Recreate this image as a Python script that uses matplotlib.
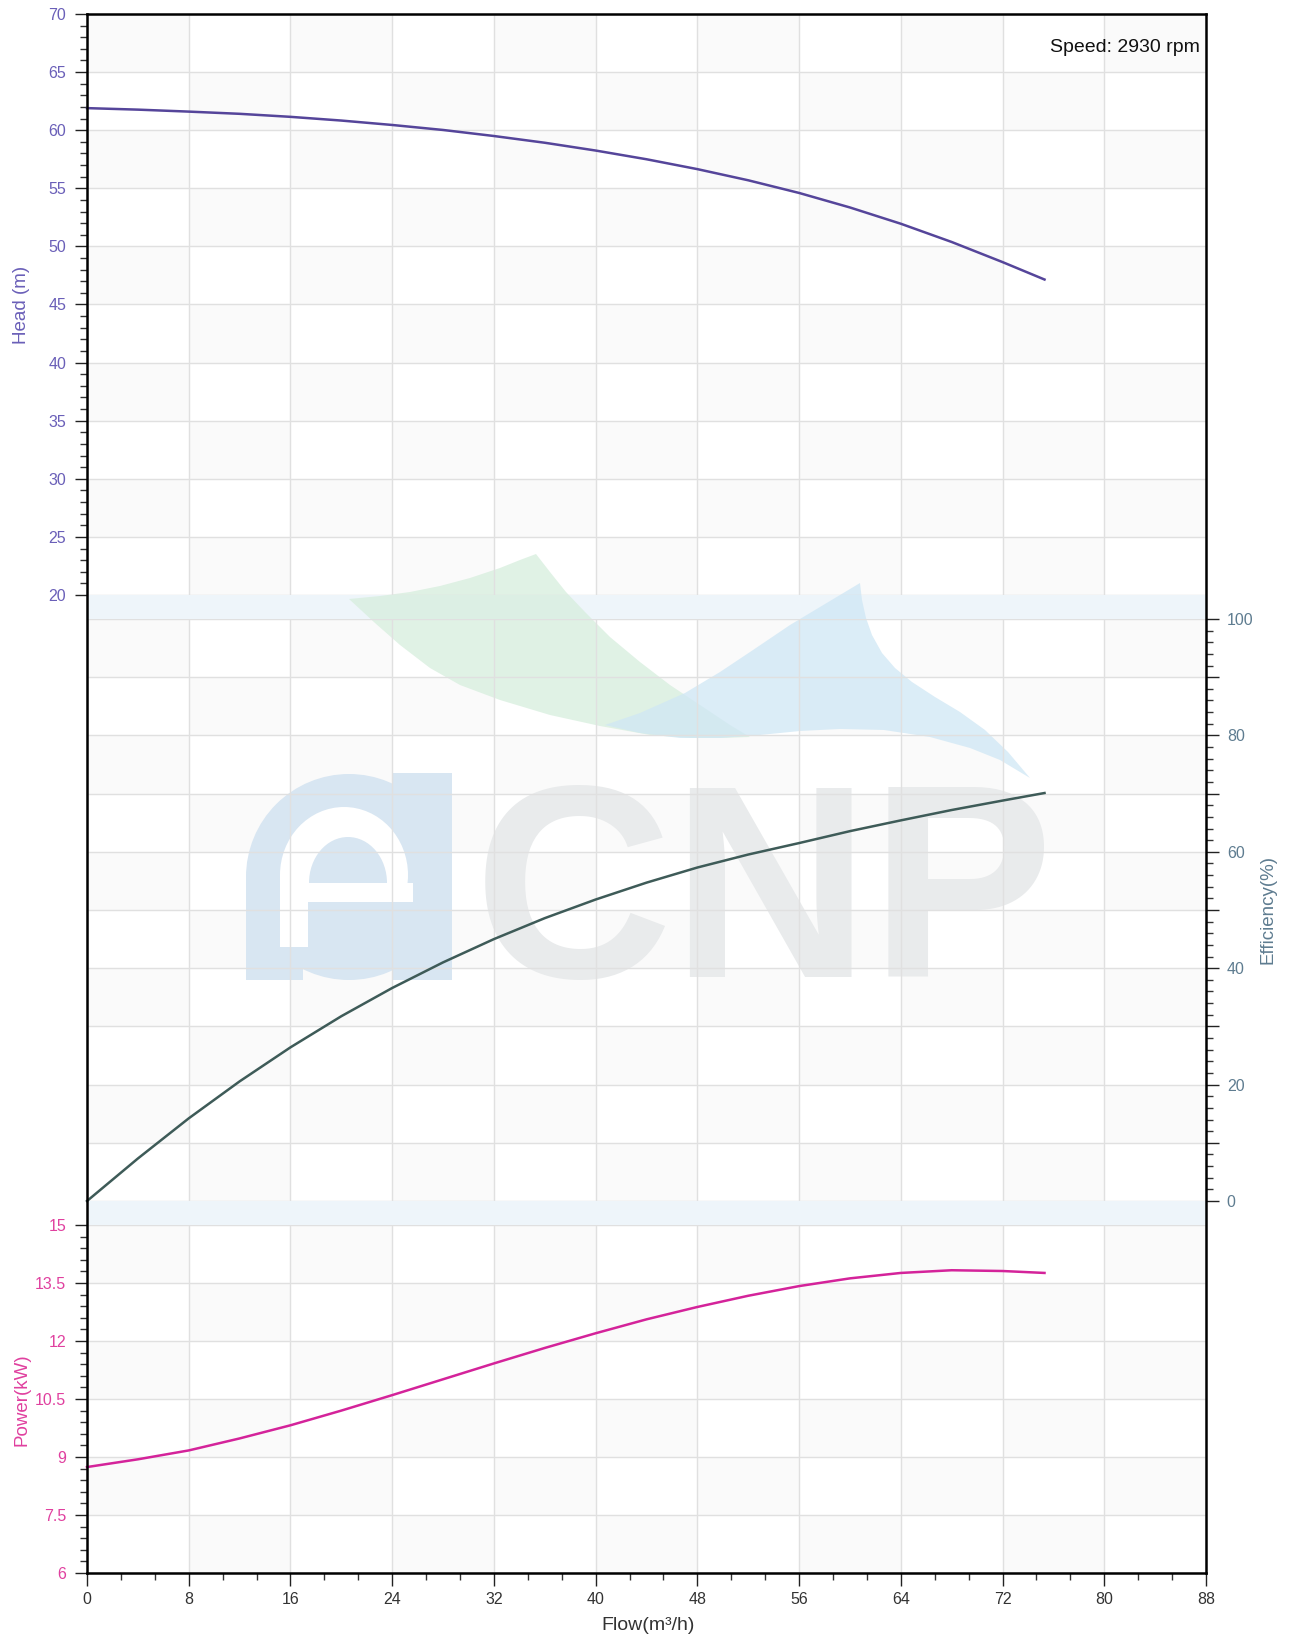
import matplotlib
matplotlib.use("Agg")
import matplotlib.pyplot as plt
from matplotlib.patches import Rectangle, Polygon, Ellipse
from matplotlib.ticker import MultipleLocator, FuncFormatter
from matplotlib.transforms import Affine2D

plt.rcParams["font.family"] = ["Liberation Sans", "DejaVu Sans"]

# -----------------------------
# 1. Curve data
# -----------------------------
flow = [0, 4, 8, 12, 16, 20, 24, 28, 32, 36, 40, 44, 48, 52, 56, 60, 64, 68, 72, 75.3]
head = [61.9, 61.77, 61.6, 61.41, 61.15, 60.83, 60.45, 60.02, 59.5, 58.92,
        58.25, 57.5, 56.65, 55.69, 54.6, 53.35, 51.95, 50.38, 48.65, 47.15]
efficiency = [0, 7.3, 14.2, 20.55, 26.4, 31.75, 36.6, 41.0, 45.0, 48.6,
              51.8, 54.7, 57.3, 59.53, 61.5, 63.55, 65.4, 67.18, 68.8, 70.1]
power = [8.74, 8.94, 9.17, 9.48, 9.82, 10.2, 10.6, 11.01, 11.42, 11.82,
         12.2, 12.56, 12.88, 13.17, 13.42, 13.62, 13.76, 13.83, 13.81, 13.76]

speed_text = "Speed: 2930 rpm"

# -----------------------------
# 2. Layout (pixels)
# -----------------------------
FIG_W, FIG_H = 1292, 1639
PLOT_L, PLOT_R = 87, 1206
HEAD_TOP, HEAD_BOT = 14, 595
EFF_TOP, EFF_BOT = 619, 1201
POW_TOP, POW_BOT = 1225, 1573

HEAD_C = "#6A5FB8"
EFF_C = "#5E7C90"
POW_C = "#E0409F"
GRID_C = "#E0E0E0"
SHADE_C = "#FAFAFA"
BAND_C = "#EEF5FA"


def rect_frac(top, bot):
    return [PLOT_L / FIG_W, 1 - bot / FIG_H, (PLOT_R - PLOT_L) / FIG_W, (bot - top) / FIG_H]


fig = plt.figure(figsize=(FIG_W / 100, FIG_H / 100), dpi=100)
PX = Affine2D().scale(1 / FIG_W, -1 / FIG_H).translate(0, 1) + fig.transFigure

# background (shading, bands, watermark)
bg = fig.add_axes(rect_frac(HEAD_TOP, POW_BOT), zorder=0)
bg.set_xticks([])
bg.set_yticks([])
for s in bg.spines.values():
    s.set_visible(False)

# black frame drawn on top of everything
frame = fig.add_axes(rect_frac(HEAD_TOP, POW_BOT), zorder=5, facecolor="none")
frame.set_xticks([])
frame.set_yticks([])
for s in frame.spines.values():
    s.set_linewidth(1.8)
    s.set_color("black")

ax_h = fig.add_axes(rect_frac(HEAD_TOP, HEAD_BOT), zorder=1, facecolor="none")
ax_e = fig.add_axes(rect_frac(EFF_TOP, EFF_BOT), zorder=1, facecolor="none")
ax_p = fig.add_axes(rect_frac(POW_TOP, POW_BOT), zorder=1, facecolor="none")

panels = [
    (ax_h, 20, 70, 5, 1, HEAD_C),
    (ax_e, 0, 100, 10, 2, EFF_C),
    (ax_p, 6, 15, 1.5, 0.3, POW_C),
]

# -----------------------------
# 3. Axes, grid and checkerboard shading
# -----------------------------
for ax, ymin, ymax, ystep, yminor, col in panels:
    ax.set_xlim(0, 88)
    ax.set_ylim(ymin, ymax)
    for s in ax.spines.values():
        s.set_visible(False)
    ax.xaxis.set_major_locator(MultipleLocator(8))
    ax.yaxis.set_major_locator(MultipleLocator(ystep))
    ax.yaxis.set_minor_locator(MultipleLocator(yminor))
    ax.grid(True, which="major", color=GRID_C, linewidth=1)
    ax.set_axisbelow(True)
    ax.tick_params(axis="y", which="major", direction="out", length=9, width=1,
                   color="#222222", labelsize=11.5, labelcolor=col, pad=6)
    ax.tick_params(axis="y", which="minor", direction="out", length=5, width=1,
                   color="#333333")

    nrows = int(round((ymax - ymin) / ystep))
    for r in range(nrows):
        y0 = ymax - (r + 1) * ystep
        for c in range(11):
            if (r + c) % 2 == 0:
                bg.add_patch(Rectangle((c * 8, y0), 8, ystep, transform=ax.transData,
                                       facecolor=SHADE_C, edgecolor="none", zorder=1))

for ax in (ax_h, ax_e):
    ax.tick_params(axis="x", which="both", length=0, labelbottom=False)

ax_e.yaxis.tick_right()
ax_e.yaxis.set_major_formatter(FuncFormatter(lambda v, p: f"{v:g}" if v % 20 == 0 else ""))
ax_p.yaxis.set_major_formatter(FuncFormatter(lambda v, p: f"{v:g}"))

ax_p.xaxis.set_minor_locator(MultipleLocator(8 / 3))
ax_p.tick_params(axis="x", which="major", direction="out", length=9, width=1,
                 color="#222222", labelsize=11.5, labelcolor="#333333", pad=5)
ax_p.tick_params(axis="x", which="minor", direction="out", length=5, width=1,
                 color="#333333")

# bands between panels
for top, bot in [(HEAD_BOT, EFF_TOP), (EFF_BOT, POW_TOP)]:
    bg.add_patch(Rectangle((PLOT_L, top), PLOT_R - PLOT_L, bot - top, transform=PX,
                           facecolor=BAND_C, edgecolor="none", zorder=2))

# -----------------------------
# 4. Watermark logo
# -----------------------------
green = [(349, 599), (380, 596), (410, 592), (440, 586), (470, 578), (500, 568),
         (520, 560), (536, 554), (550, 572), (566, 592), (585, 612), (610, 637),
         (640, 662), (670, 685), (700, 705), (730, 725), (750, 737), (720, 738),
         (690, 738), (650, 735), (600, 726), (550, 715), (500, 700), (460, 685),
         (430, 668), (400, 645), (375, 623)]
blue = [(860, 583), (862, 600), (866, 618), (872, 635), (882, 653), (895, 668),
        (912, 682), (935, 697), (960, 712), (985, 730), (1008, 752), (1030, 778),
        (1000, 760), (970, 748), (930, 737), (884, 730), (840, 729), (800, 731),
        (760, 735), (720, 738), (680, 738), (640, 733), (605, 725), (640, 713),
        (685, 693), (720, 672), (753, 650), (790, 625), (825, 604)]
bg.add_patch(Polygon(green, closed=True, transform=PX, facecolor="#D6EEDD",
                     edgecolor="none", alpha=0.75, zorder=3))
bg.add_patch(Polygon(blue, closed=True, transform=PX, facecolor="#CFE7F5",
                     edgecolor="none", alpha=0.75, zorder=3))

E_BLUE = "#D8E6F2"
logo_parts = [
    Ellipse((349, 877), 206, 206, facecolor=E_BLUE),
    Rectangle((246, 877), 57, 103, facecolor=E_BLUE),
    Rectangle((392, 773), 60, 207, facecolor=E_BLUE),
    Ellipse((344, 875), 128, 136, facecolor="white"),
    Rectangle((280, 902), 133, 48, facecolor=E_BLUE),
    Ellipse((348, 883), 78, 92, facecolor=E_BLUE),
    Rectangle((280, 875), 28, 72, facecolor="white"),
    Rectangle((308, 883), 105, 19, facecolor="white"),
]
for p in logo_parts:
    p.set_transform(PX)
    p.set_edgecolor("none")
    p.set_zorder(3)
    bg.add_patch(p)

bg.text(764, 977, "CNP", transform=PX, ha="center", va="baseline", fontsize=198,
        fontweight="bold", color="#E9EBEC", zorder=3)

# -----------------------------
# 5. Curves
# -----------------------------
ax_h.plot(flow, head, color="#55459A", linewidth=1.8, zorder=3, clip_on=False)
ax_e.plot(flow, efficiency, color="#3E5B58", linewidth=1.8, zorder=3, clip_on=False)
ax_p.plot(flow, power, color="#D4239A", linewidth=1.8, zorder=3, clip_on=False)

# -----------------------------
# 6. Labels
# -----------------------------
fig.text(1200, 47, speed_text, transform=PX, ha="right", va="center",
         fontsize=14, color="#111111")
fig.text(22, 305, "Head (m)", transform=PX, rotation=90, ha="center", va="center",
         fontsize=13.5, color=HEAD_C)
fig.text(1268, 910, "Efficiency(%)", transform=PX, rotation=90, ha="center", va="center",
         fontsize=13.5, color=EFF_C)
fig.text(22, 1400, "Power(kW)", transform=PX, rotation=90, ha="center", va="center",
         fontsize=13.5, color=POW_C)
fig.text(648, 1625, "Flow(m³/h)", transform=PX, ha="center", va="center",
         fontsize=14, color="#333333")

fig.savefig("out.png", dpi=100, facecolor="white")
